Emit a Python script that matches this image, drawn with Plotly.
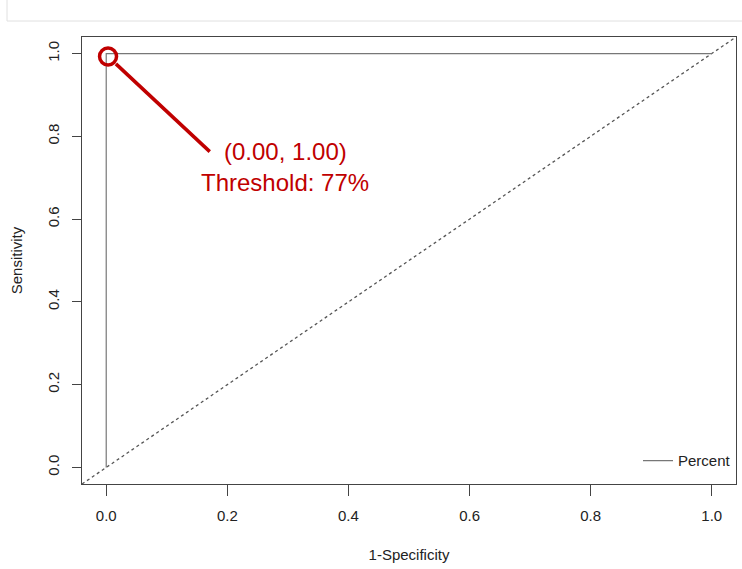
import plotly.graph_objects as go

# ROC curve data
roc_fpr = [0.0, 0.0, 1.0]
roc_tpr = [0.0, 1.0, 1.0]
ref_x = [-0.04, 1.04]
ref_y = [-0.04, 1.04]
best_pt = (0.003, 0.993)
pointer_x = [0.016, 0.171]
pointer_y = [0.975, 0.763]
label_coord = "(0.00, 1.00)"
label_thresh = "Threshold: 77%"
tick_vals = [0.0, 0.2, 0.4, 0.6, 0.8, 1.0]
tick_text = ["0.0", "0.2", "0.4", "0.6", "0.8", "1.0"]

red = "#c00000"
axc = "#444444"
font = "Liberation Sans, Arial, sans-serif"

W, H = 742, 569
L, R, T, B = 82, 6, 37, 85
pw, ph = W - L - R, H - T - B

fig = go.Figure()
fig.add_trace(go.Scatter(x=ref_x, y=ref_y, mode="lines",
                         line=dict(color="#555555", width=1.3, dash="dot"),
                         showlegend=False, hoverinfo="skip"))
fig.add_trace(go.Scatter(x=roc_fpr, y=roc_tpr, mode="lines", name="Percent",
                         line=dict(color="#777777", width=1.2)))
fig.add_trace(go.Scatter(x=pointer_x, y=pointer_y, mode="lines",
                         line=dict(color=red, width=3.5), showlegend=False))
fig.add_trace(go.Scatter(x=[best_pt[0]], y=[best_pt[1]], mode="markers",
                         marker=dict(symbol="circle-open", size=17, color=red,
                                     line=dict(color=red, width=3.5)),
                         showlegend=False))

fig.add_annotation(x=0.296, y=0.763, text=label_coord, showarrow=False,
                   font=dict(color=red, size=24, family=font), xanchor="center", yanchor="middle")
fig.add_annotation(x=0.296, y=0.688, text=label_thresh, showarrow=False,
                   font=dict(color=red, size=24, family=font), xanchor="center", yanchor="middle")

axis_common = dict(showline=True, mirror=True, linecolor=axc, linewidth=1,
                   showgrid=False, zeroline=False, ticks="outside",
                   tickcolor=axc, tickvals=tick_vals, ticktext=tick_text,
                   ticklabelstandoff=7,
                   tickfont=dict(size=15, color="#222222", family=font))

fig.update_layout(
    width=W, height=H,
    margin=dict(l=L, r=R, t=T, b=B, autoexpand=False),
    paper_bgcolor="white", plot_bgcolor="white",
    font=dict(family=font),
    xaxis=dict(range=[-0.04, 1.04], ticklen=11,
               title=dict(text="1-Specificity", font=dict(size=15, color="#222222"), standoff=26),
               **axis_common),
    yaxis=dict(range=[-0.04, 1.04], ticklen=9, tickangle=-90,
               title=dict(text="Sensitivity", font=dict(size=15, color="#222222"), standoff=18),
               **axis_common),
    legend=dict(x=1.0, y=0.015, xanchor="right", yanchor="bottom",
                bgcolor="rgba(0,0,0,0)", font=dict(size=15, color="#222222"),
                itemwidth=30),
    shapes=[
        dict(type="line", xref="paper", yref="paper", x0=(7 - L) / pw, x1=1.1,
             y0=1.0 + (T - 21) / ph, y1=1.0 + (T - 21) / ph,
             line=dict(color="#e0e0e0", width=1)),
        dict(type="line", xref="paper", yref="paper", x0=(7 - L) / pw, x1=(7 - L) / pw,
             y0=1.0 + (T - 21) / ph, y1=1.0 + T / ph,
             line=dict(color="#e0e0e0", width=1)),
    ],
)

fig.write_html("out.html", config={"displayModeBar": False},
               post_script="document.body.style.margin='0';")
